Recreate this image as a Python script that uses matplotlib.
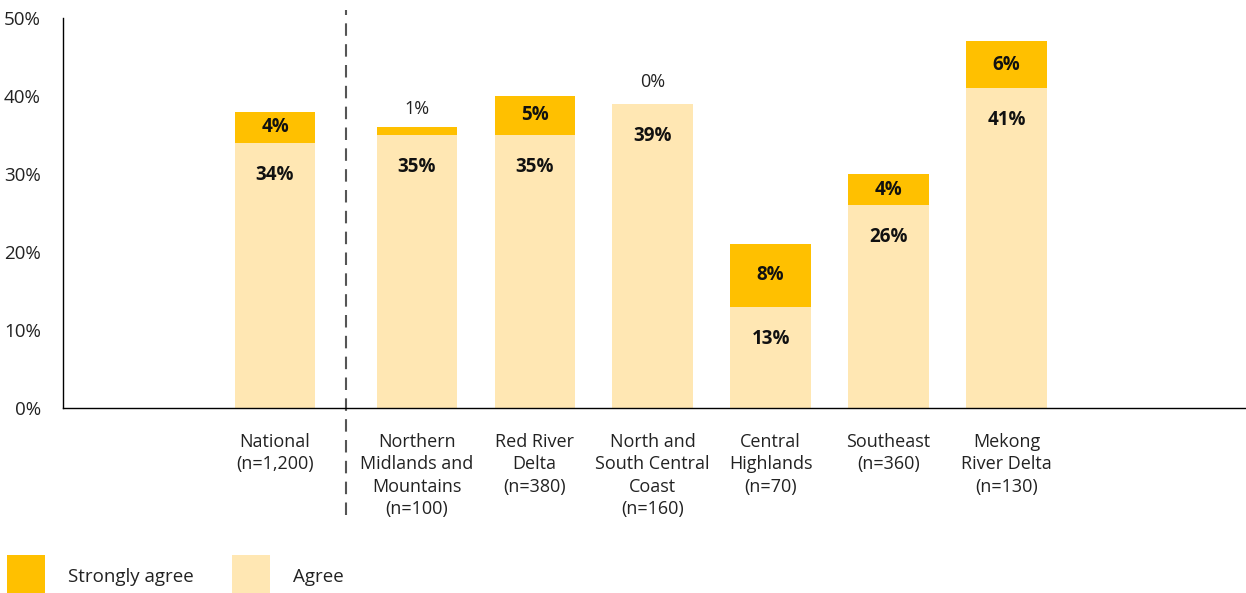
import matplotlib
matplotlib.use("Agg")
import matplotlib.pyplot as plt
from matplotlib.patches import Rectangle

plt.rcParams['font.family'] = ['Open Sans', 'DejaVu Sans']

categories = ["National\n(n=1,200)", "Northern\nMidlands and\nMountains\n(n=100)",
              "Red River\nDelta\n(n=380)", "North and\nSouth Central\nCoast\n(n=160)",
              "Central\nHighlands\n(n=70)", "Southeast\n(n=360)", "Mekong\nRiver Delta\n(n=130)"]
agree = [34, 35, 35, 39, 13, 26, 41]
strongly = [4, 1, 5, 0, 8, 4, 6]
series_names = ["Strongly agree", "Agree"]
yticks = [0, 10, 20, 30, 40, 50]

c_strong = "#FFC000"
c_agree = "#FFE7B3"
fs = 13
fsb = 13.5

fig = plt.figure(figsize=(12.46, 5.93), dpi=100)
ax = fig.add_axes([63/1246, 185/593, 1 - 63/1246, 390/593])

pos = [0] + [1.2 + i for i in range(len(categories) - 1)]
w = 0.68
ax.bar(pos, agree, width=w, color=c_agree, linewidth=0)
ax.bar(pos, strongly, width=w, bottom=agree, color=c_strong, linewidth=0)

for x, a, s in zip(pos, agree, strongly):
    ax.annotate(f"{a}%", (x, a), xytext=(0, -23), textcoords="offset points",
                ha="center", va="center", fontsize=fsb, fontweight="bold", color="#111111")
    if s >= 3:
        ax.text(x, a + s / 2, f"{s}%", ha="center", va="center", fontsize=fsb,
                fontweight="bold", color="#111111")
    else:
        ax.annotate(f"{s}%", (x, a + s / 2), xytext=(0, 16), textcoords="offset points",
                    ha="center", va="center", fontsize=fs, color="#222222")

ax.set_xlim(-1.797, 8.229)
ax.set_ylim(0, 50)
ax.set_yticks(yticks)
ax.set_yticklabels([f"{t}%" for t in yticks], fontsize=13.5, color="#222222")
ax.tick_params(axis="y", length=0, pad=16)
ax.set_xticks(pos)
ax.set_xticklabels(categories, fontsize=fs, color="#222222", linespacing=1.32, va="top")
ax.tick_params(axis="x", length=0, pad=18)
for sp in ["top", "right"]:
    ax.spines[sp].set_visible(False)
for sp in ["left", "bottom"]:
    ax.spines[sp].set_color("black")
    ax.spines[sp].set_linewidth(1.0)

# dashed separator
sep_x = 0.60
ax.plot([sep_x, sep_x], [-0.274, 1.02], transform=ax.get_xaxis_transform(),
        color="#555555", linestyle=(0, (6, 4)), linewidth=1.5, clip_on=False)

# legend
sq_w = 38 / 1246
sq_h = 38 / 593
items = [(7, 68, c_strong, series_names[0]), (232, 293, c_agree, series_names[1])]
for sx, tx, col, name in items:
    fig.add_artist(Rectangle((sx / 1246, 0), sq_w, sq_h, transform=fig.transFigure,
                             facecolor=col, edgecolor="none"))
    fig.text(tx / 1246, 16 / 593, name, fontsize=13.5, color="#222222", va="center", ha="left")

fig.savefig("out.png", dpi=100)
